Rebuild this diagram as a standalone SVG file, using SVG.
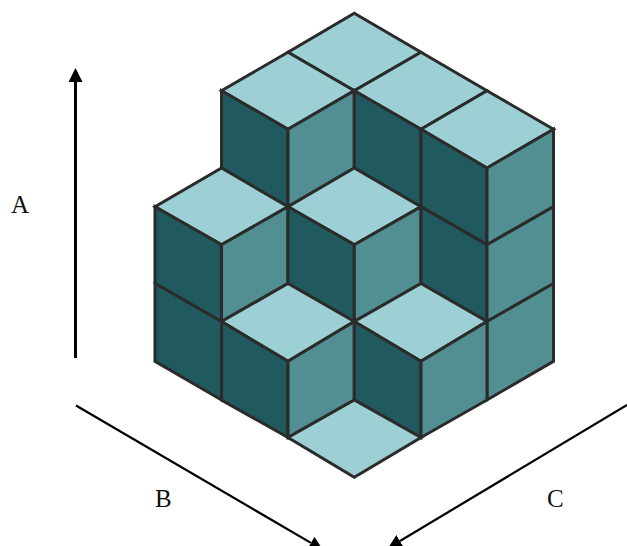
<svg xmlns="http://www.w3.org/2000/svg" width="627" height="546" viewBox="0 0 627 546">
<style>
.t{fill:#9dd0d4}.d{fill:#215a5e}.m{fill:#528f92}
#cubes polygon{stroke:#2b2b2b;stroke-width:3;stroke-linejoin:miter}
.ax{stroke:#000;fill:none;marker-end:url(#h)}
text{font-family:"Liberation Serif","Times New Roman",serif;font-size:25px;fill:#111}
</style>
<defs><marker id="h" markerUnits="userSpaceOnUse" markerWidth="15" markerHeight="14" refX="0" refY="7" orient="auto"><path d="M0 0L14 7L0 14Z" fill="#000"/></marker></defs>
<rect width="627" height="546" fill="#fff"/>
<g id="cubes">
<polygon class="t" points="354.3,13.3 421,52.2 354.3,90.7 288,52.2"/>
<polygon class="t" points="288,52.2 354.3,90.7 288,129.3 221.5,90.7"/>
<polygon class="t" points="421,52.2 487,90.7 421,129.3 354.3,90.7"/>
<polygon class="t" points="487,90.7 553.5,129.3 487,168 421,129.3"/>
<polygon class="d" points="221.5,90.7 288,129.3 288,206.7 221.5,168"/>
<polygon class="m" points="288,129.3 354.3,90.7 354.3,168 288,206.7"/>
<polygon class="d" points="354.3,90.7 421,129.3 421,206.7 354.3,168"/>
<polygon class="d" points="421,129.3 487,168 487,244.7 421,206.7"/>
<polygon class="m" points="487,168 553.5,129.3 553.5,206.7 487,244.7"/>
<polygon class="t" points="221.5,168 288,206.7 221.5,244.7 155,206.7"/>
<polygon class="t" points="354.3,168 421,206.7 354.3,244.7 288,206.7"/>
<polygon class="d" points="155,206.7 221.5,244.7 221.5,321.5 155,283.5"/>
<polygon class="m" points="221.5,244.7 288,206.7 288,283.5 221.5,321.5"/>
<polygon class="d" points="288,206.7 354.3,244.7 354.3,321.5 288,283.5"/>
<polygon class="m" points="354.3,244.7 421,206.7 421,283.5 354.3,321.5"/>
<polygon class="d" points="421,206.7 487,244.7 487,321.5 421,283.5"/>
<polygon class="m" points="487,244.7 553.5,206.7 553.5,283.5 487,321.5"/>
<polygon class="d" points="155,283.5 221.5,321.5 221.5,400 155,361.3"/>
<polygon class="t" points="288,283.5 354.3,321.5 288,361.3 221.5,321.5"/>
<polygon class="t" points="421,283.5 487,321.5 421,361.3 354.3,321.5"/>
<polygon class="m" points="487,321.5 553.5,283.5 553.5,361.3 487,400"/>
<polygon class="d" points="221.5,321.5 288,361.3 288,437.5 221.5,400"/>
<polygon class="m" points="288,361.3 354.3,321.5 354.3,400 288,437.5"/>
<polygon class="d" points="354.3,321.5 421,361.3 421,437.5 354.3,400"/>
<polygon class="m" points="421,361.3 487,321.5 487,400 421,437.5"/>
<polygon class="t" points="354.3,400 421,437.5 354.3,477.3 288,437.5"/>
</g>
<g id="connectors">
<line class="ax" x1="75.5" y1="358" x2="75.5" y2="82" stroke-width="3"/>
<line class="ax" x1="76" y1="405.5" x2="310.9" y2="542.9" stroke-width="2.2"/>
<line class="ax" x1="627" y1="405" x2="400" y2="541" stroke-width="2.2"/>
</g>
<g id="labels">
<text x="11" y="213">A</text>
<text x="155" y="506.5">B</text>
<text x="547" y="506.5">C</text>
</g>
</svg>
